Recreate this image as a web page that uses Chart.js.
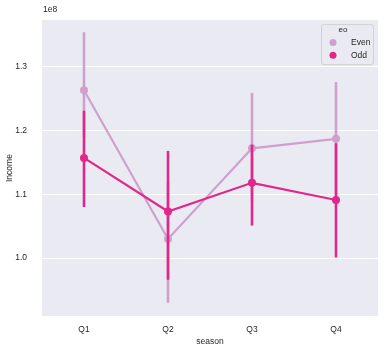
<!DOCTYPE html>
<html><head><meta charset="utf-8">
<script src="https://cdn.jsdelivr.net/npm/chart.js@4"></script>
<style>html,body{margin:0;padding:0;background:#fff}canvas{display:block}</style>
</head><body>
<canvas id="c" width="389" height="353"></canvas>
<script>
const categories = ["Q1","Q2","Q3","Q4"];
const seriesNames = ["Even","Odd"];
// values in units of 1e8
const evenMean = [1.263, 1.030, 1.172, 1.187];
const evenLow  = [1.190, 0.930, 1.090, 1.100];
const evenHigh = [1.354, 1.120, 1.259, 1.276];
const oddMean  = [1.157, 1.073, 1.118, 1.091];
const oddLow   = [1.080, 0.966, 1.051, 1.001];
const oddHigh  = [1.231, 1.168, 1.178, 1.180];
const yTicks = [1.0, 1.1, 1.2, 1.3];
const colors = ["#d0a0cd", "#e2278a"];

const FONT = "'Liberation Sans', Arial, sans-serif";
const TXT = "#262626";
const ciSets = [[evenLow, evenHigh], [oddLow, oddHigh]];

const errorBars = {
  id: "errorBars",
  beforeDatasetDraw(chart, args) {
    const ctx = chart.ctx, x = chart.scales.x, y = chart.scales.y, a = chart.chartArea;
    const di = args.index, s = ciSets[di];
    ctx.save();
    ctx.beginPath();
    ctx.rect(a.left, a.top, a.right - a.left, a.bottom - a.top);
    ctx.clip();
    ctx.strokeStyle = colors[di];
    ctx.lineWidth = 2.6;
    ctx.lineCap = "butt";
    categories.forEach((c, i) => {
      const px = x.getPixelForValue(i);
      ctx.beginPath();
      ctx.moveTo(px, y.getPixelForValue(s[0][i]));
      ctx.lineTo(px, y.getPixelForValue(s[1][i]));
      ctx.stroke();
    });
    ctx.restore();
  }
};

const extras = {
  id: "extras",
  afterDraw(chart) {
    const ctx = chart.ctx, a = chart.chartArea;
    ctx.save();
    ctx.fillStyle = TXT;
    ctx.font = "8.5px " + FONT;
    ctx.textAlign = "left";
    ctx.textBaseline = "middle";
    ctx.fillText("1e8", a.left + 1, 10);
    // legend
    const lx = a.right - 57, ly = a.top + 4, lw = 52, lh = 40;
    ctx.fillStyle = "rgba(234,234,242,0.85)";
    ctx.strokeStyle = "#cccccc";
    ctx.lineWidth = 0.8;
    ctx.beginPath();
    ctx.roundRect(lx + 0.5, ly + 0.5, lw, lh, 2.5);
    ctx.fill(); ctx.stroke();
    ctx.fillStyle = TXT;
    ctx.font = "8px " + FONT;
    ctx.textAlign = "center";
    ctx.fillText("eo", lx + 22, ly + 6);
    ctx.textAlign = "left";
    ctx.font = "8.5px " + FONT;
    seriesNames.forEach((n, i) => {
      const cy = ly + 18.5 + i * 12.7;
      ctx.fillStyle = colors[i];
      ctx.beginPath(); ctx.arc(lx + 12, cy, 3.5, 0, Math.PI * 2); ctx.fill();
      ctx.fillStyle = TXT;
      ctx.fillText(n, lx + 30, cy);
    });
    ctx.restore();
  }
};

const bgPlugin = {
  id: "bg",
  beforeDraw(chart) {
    const ctx = chart.ctx, a = chart.chartArea;
    ctx.save();
    ctx.fillStyle = "#ffffff";
    ctx.fillRect(0, 0, chart.width, chart.height);
    ctx.fillStyle = "#eaeaf2";
    ctx.fillRect(a.left, a.top, a.right - a.left, a.bottom - a.top);
    ctx.restore();
  }
};

new Chart(document.getElementById("c"), {
  type: "line",
  data: {
    labels: categories,
    datasets: [
      { label: "Even", order: 2, data: evenMean, borderColor: colors[0], backgroundColor: colors[0], borderWidth: 2.2, pointRadius: 4, pointHoverRadius: 4, pointBorderWidth: 0, tension: 0 },
      { label: "Odd", order: 1, data: oddMean, borderColor: colors[1], backgroundColor: colors[1], borderWidth: 2.2, pointRadius: 4, pointHoverRadius: 4, pointBorderWidth: 0, tension: 0 }
    ]
  },
  options: {
    responsive: false,
    animation: false,
    devicePixelRatio: 1,
    layout: { padding: { left: 0, right: 11, top: 17, bottom: 0 } },
    plugins: { legend: { display: false }, tooltip: { enabled: false } },
    scales: {
      x: {
        type: "category",
        offset: true,
        grid: { display: false, drawTicks: false },
        border: { display: false },
        ticks: { color: TXT, font: { family: FONT, size: 8.5 }, padding: 9 },
        title: { display: true, text: "season", color: TXT, font: { family: FONT, size: 8.5 }, padding: { top: 0, bottom: 6 } },
        afterFit(s) { s.height = 37; }
      },
      y: {
        type: "linear",
        min: 0.9092,
        max: 1.3731,
        afterBuildTicks(s) { s.ticks = yTicks.map(v => ({ value: v })); },
        grid: { color: "#ffffff", lineWidth: 1, drawTicks: false },
        border: { display: false },
        ticks: { color: TXT, font: { family: FONT, size: 8.5 }, padding: 15, callback: v => v.toFixed(1) },
        title: { display: true, text: "Income", color: TXT, font: { family: FONT, size: 8.5 }, padding: { top: 5, bottom: 0 } },
        afterFit(s) { s.width = 42; }
      }
    }
  },
  plugins: [bgPlugin, errorBars, extras]
});
</script>
</body></html>
